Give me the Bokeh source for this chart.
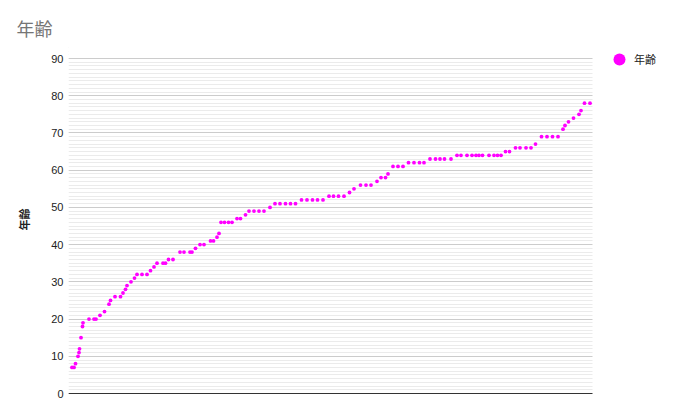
from bokeh.plotting import figure
from bokeh.models import (Legend, LegendItem, Range1d, SingleIntervalTicker,
                          ColumnDataSource, BoxAnnotation, Span)
from bokeh.embed import file_html
from bokeh.resources import INLINE

title_text = "年齢"
series_name = "年齢"
y_max = 90
x_max = 104.8

# position of each respondent along the (unlabelled) horizontal axis
order = [0.7, 1.1, 1.4, 1.9, 2.1, 2.2, 2.5, 2.8, 2.9, 4.1,
         5.1, 5.5, 6.3, 7.2, 8.1, 8.4, 9.3, 10.4, 10.9, 11.4,
         11.7, 12.5, 13.2, 13.7, 14.7, 15.7, 16.4, 17.1, 17.7, 18.9,
         19.4, 20.0, 20.9, 22.3, 23.1, 24.3, 24.7, 25.4, 26.3, 27.1,
         28.4, 29.0, 29.7, 30.1, 30.5, 31.2, 32.0, 32.7, 33.7, 34.4,
         35.4, 36.1, 37.1, 38.1, 39.1, 40.3, 41.3, 42.3, 43.4, 44.4,
         45.4, 46.6, 47.7, 48.8, 49.8, 50.9, 52.1, 53.0, 54.0, 55.1,
         56.2, 57.1, 58.4, 59.5, 60.5, 61.7, 62.5, 63.4, 63.9, 64.9,
         65.9, 66.9, 68.0, 69.1, 70.2, 71.1, 72.3, 73.4, 74.3, 75.2,
         76.5, 77.7, 78.5, 79.7, 80.7, 81.5, 82.1, 82.8, 84.1, 85.1,
         85.8, 86.5, 87.4, 88.2, 89.4, 90.3, 91.5, 92.5, 93.4, 94.6,
         95.7, 96.8, 97.9, 98.9, 99.3, 100.0, 101.0, 102.1, 102.5, 103.2,
         104.3]

ages = [7, 7, 8, 10, 11, 12, 15, 18, 19, 20,
        20, 20, 21, 22, 24, 25, 26, 26, 27, 28,
        29, 30, 31, 32, 32, 32, 33, 34, 35, 35,
        35, 36, 36, 38, 38, 38, 38, 39, 40, 40,
        41, 41, 42, 43, 46, 46, 46, 46, 47, 47,
        48, 49, 49, 49, 49, 50, 51, 51, 51, 51,
        51, 52, 52, 52, 52, 52, 53, 53, 53, 53,
        54, 55, 56, 56, 56, 57, 58, 58, 59, 61,
        61, 61, 62, 62, 62, 62, 63, 63, 63, 63,
        63, 64, 64, 64, 64, 64, 64, 64, 64, 64,
        64, 64, 65, 65, 66, 66, 66, 66, 67, 69,
        69, 69, 69, 71, 72, 73, 74, 75, 76, 78,
        78]

MAGENTA = "#ff00ff"
CJK = "Noto Sans CJK JP"

# frame: 592 px wide (5 px per x unit), 350 px tall (335 px per 90 units)
px_per_y = 335 / 90.0
p = figure(width=660, height=410, output_backend="svg", toolbar_location=None,
           x_range=Range1d(0, 592 / 5.0),
           y_range=Range1d(-1 / px_per_y, y_max + 14 / px_per_y),
           min_border_left=68, min_border_right=0, min_border_top=44,
           min_border_bottom=16)
p.outline_line_color = None
p.background_fill_color = "white"
p.border_fill_color = "white"

# title
p.title.text = title_text
p.title.text_font = CJK
p.title.text_font_size = "18px"
p.title.text_font_style = "normal"
p.title.text_color = "#757575"
p.title.align = "left"
p.title.offset = -52
p.title.standoff = 7

# grid
p.xgrid.grid_line_color = None
p.ygrid.grid_line_color = "#cccccc"
p.ygrid.minor_grid_line_color = "#ebebeb"

# baseline at 0
p.add_layout(Span(location=0, dimension="width", line_color="#333333",
                  line_width=1, level="underlay"))
# keep the plotting area to 0..x_max, 0..y_max (white outside)
p.add_layout(BoxAnnotation(left=x_max, fill_color="white", fill_alpha=1,
                           line_color=None, level="underlay"))
p.add_layout(BoxAnnotation(bottom=y_max + 0.15, fill_color="white", fill_alpha=1,
                           line_color=None, level="underlay"))

src = ColumnDataSource(data=dict(x=order, y=ages))
r = p.scatter("x", "y", source=src, size=3.8, color=MAGENTA, line_color=None)

legend = Legend(items=[LegendItem(label=series_name, renderers=[r])],
                location=(536, 320), padding=0, margin=0, spacing=0,
                glyph_width=30, glyph_height=30, label_standoff=0,
                border_line_color=None, background_fill_alpha=0,
                label_text_font=CJK, label_text_font_size="11px",
                label_text_color="#222222")
p.add_layout(legend, "center")

# y axis
yax = p.yaxis[0]
yax.ticker = SingleIntervalTicker(interval=10, num_minor_ticks=10)
yax.axis_line_color = None
yax.major_tick_line_color = None
yax.minor_tick_line_color = None
yax.major_tick_out = 0
yax.major_tick_in = 0
yax.minor_tick_out = 0
yax.minor_tick_in = 0
yax.major_label_text_font = "Liberation Sans"
yax.major_label_text_font_size = "11px"
yax.major_label_text_color = "#222222"
yax.major_label_standoff = 5
yax.axis_label = series_name
yax.axis_label_text_font = CJK
yax.axis_label_text_font_size = "11px"
yax.axis_label_text_font_style = "bold"
yax.axis_label_text_color = "#222222"
yax.axis_label_standoff = 16

p.xaxis.visible = False

open("out.html", "w").write(file_html(p, INLINE))
